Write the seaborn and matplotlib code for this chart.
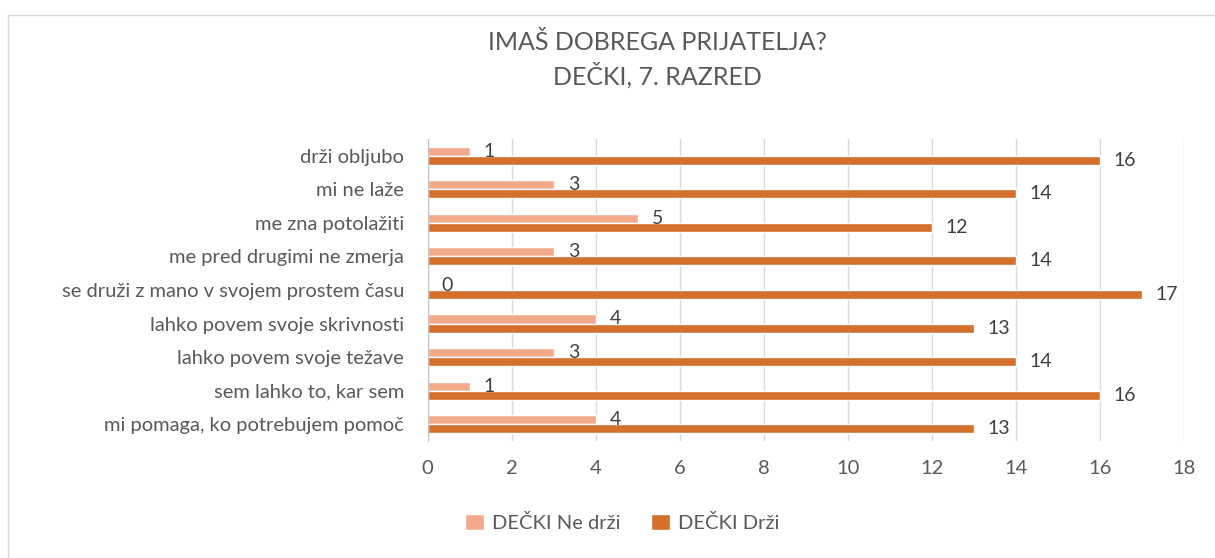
import pandas as pd
import seaborn as sns
from matplotlib import pyplot as plt
from matplotlib.patches import Rectangle

# categories listed top to bottom as in the chart
categories = ['drži obljubo', 'mi ne laže', 'me zna potolažiti',
              'me pred drugimi ne zmerja', 'se druži z mano v svojem prostem času',
              'lahko povem svoje skrivnosti', 'lahko povem svoje težave',
              'sem lahko to, kar sem', 'mi pomaga, ko potrebujem pomoč']
ne_drzi = [1, 3, 5, 3, 0, 4, 3, 1, 4]
drzi = [16, 14, 12, 14, 17, 13, 14, 16, 13]
series = ['DEČKI Ne drži', 'DEČKI Drži']
xticks = [0, 2, 4, 6, 8, 10, 12, 14, 16, 18]

df = pd.DataFrame({
    'kategorija': categories * 2,
    'vrednost': ne_drzi + drzi,
    'serija': [series[0]] * len(categories) + [series[1]] * len(categories),
})

sns.set_style('white')
plt.rcParams['font.family'] = ['Lato', 'DejaVu Sans']
text_col = '#595959'

fig = plt.figure(figsize=(12.15, 5.58), dpi=100)
ax = fig.add_axes([0.352, 0.2097, 0.6225, 0.5413])

sns.barplot(data=df, x='vrednost', y='kategorija', hue='serija',
            order=categories, hue_order=series,
            palette=['#F3AA8C', '#D46F2C'], saturation=1, width=0.54, gap=0,
            orient='h', ax=ax, legend=True)

for cont in ax.containers:
    ax.bar_label(cont, padding=10, fontsize=14, color='#404040')

ax.set_xlim(0, 18)
ax.set_ylim(8.5, -0.5)
ax.set_xticks(xticks)
ax.set(xlabel='', ylabel='')
ax.grid(axis='x', color='#d9d9d9', linewidth=1)
ax.set_axisbelow(True)
for s in ['top', 'right', 'bottom']:
    ax.spines[s].set_visible(False)
ax.spines['left'].set_color('#bfbfbf')
ax.tick_params(axis='y', length=0, pad=17, labelsize=14.5, labelcolor=text_col)
ax.tick_params(axis='x', length=0, pad=14, labelsize=14.5, labelcolor=text_col)

leg = ax.legend(loc='center', ncol=2, frameon=False, fontsize=14.5,
                handlelength=0.95, handleheight=0.85,
                columnspacing=1.5, handletextpad=0.4, labelcolor=text_col)
leg.set_bbox_to_anchor((622 / 1215, 1 - 523 / 558), transform=fig.transFigure)

title_x = 657 / 1215
fig.text(title_x, 1 - 43 / 558, 'IMAŠ DOBREGA PRIJATELJA?', ha='center', va='center',
         fontsize=18, color=text_col)
fig.text(title_x, 1 - 75 / 558, 'DEČKI, 7. RAZRED', ha='center', va='center',
         fontsize=18, color=text_col)

fig.patches.append(Rectangle((8 / 1215, -0.01), 1.0, 1 - 15 / 558 + 0.01,
                             transform=fig.transFigure, fill=False,
                             edgecolor='#d9d9d9', linewidth=1))

fig.savefig('out.png', dpi=100, facecolor='white')
